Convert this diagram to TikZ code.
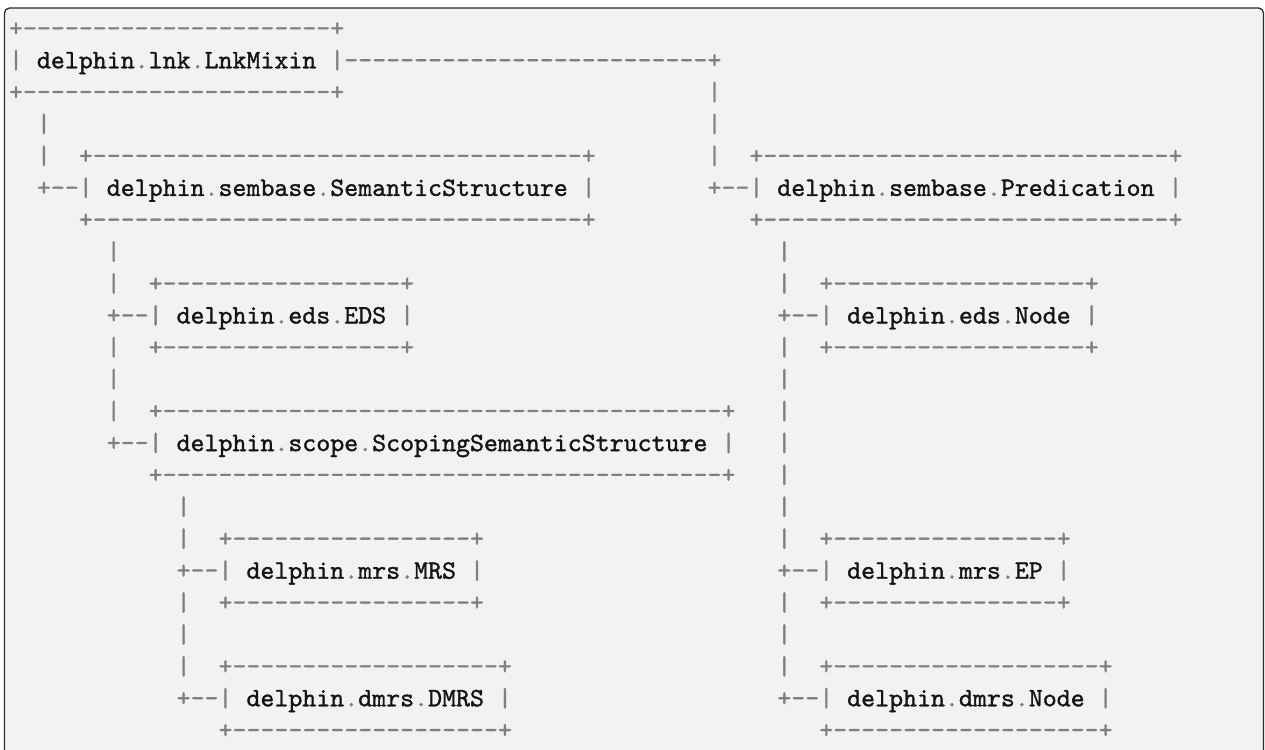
\documentclass[tikz,border=0pt]{standalone}
\usepackage{fontspec}
\newfontfamily\codefont[FakeBold=1.2]{lmmono10-regular.otf}
\definecolor{ink}{HTML}{141414}
\definecolor{pun}{HTML}{808080}
\definecolor{bgc}{HTML}{F2F2F2}
\definecolor{frm}{HTML}{2A2A2A}
\tikzset{
  txt/.style={inner sep=0pt, outer sep=0pt, anchor=base west,
    font=\codefont\fontsize{26.61}{32}\selectfont, text=ink},
  frame/.style={draw=frm, line width=1.3pt, fill=bgc, rounded corners=5pt}
}
\newcommand\g[1]{\textcolor{pun}{#1}}
\newcommand\dl{\g{.}}
\newcommand\Dd[1]{\g{\foreach\i in {1,...,#1}{-\kern0pt}}}
\newcommand\conn{\g{+}\Dd{2}\g{|}}
\newcommand\seg[4]{\node[txt,name=#1] at ({9+13.97*#3},{36.4+31.9*(#2-1)}) {#4};}
\begin{document}
\begin{tikzpicture}[x=1pt,y=-1pt]
\useasboundingbox (0,0) rectangle (1265,749);
\clip (0,0) rectangle (1265,749);
\path[frame] (4.5,8) rectangle (1263.5,800);
% row 1-3
\seg{r1}{1}{0}{\g{+}\Dd{22}\g{+}}
\seg{lnk}{2}{0}{\g{|} delphin\dl lnk\dl LnkMixin \g{|}\Dd{26}\g{+}}
\seg{r3a}{3}{0}{\g{+}\Dd{22}\g{+}}
\seg{r3b}{3}{50}{\g{|}}
\seg{r4a}{4}{2}{\g{|}}
\seg{r4b}{4}{50}{\g{|}}
% rows 5-7
\seg{r5a}{5}{2}{\g{|}}
\seg{r5b}{5}{5}{\g{+}\Dd{35}\g{+}}
\seg{r5c}{5}{50}{\g{|}}
\seg{r5d}{5}{53}{\g{+}\Dd{29}\g{+}}
\seg{sem}{6}{2}{\conn{} delphin\dl sembase\dl SemanticStructure \g{|}}
\seg{pred}{6}{50}{\conn{} delphin\dl sembase\dl Predication \g{|}}
\seg{r7a}{7}{5}{\g{+}\Dd{35}\g{+}}
\seg{r7b}{7}{53}{\g{+}\Dd{29}\g{+}}
% rows 8-11
\seg{r8a}{8}{7}{\g{|}}
\seg{r8b}{8}{55}{\g{|}}
\seg{r9a}{9}{7}{\g{|}}
\seg{r9b}{9}{10}{\g{+}\Dd{17}\g{+}}
\seg{r9c}{9}{55}{\g{|}}
\seg{r9d}{9}{58}{\g{+}\Dd{18}\g{+}}
\seg{eds}{10}{7}{\conn{} delphin\dl eds\dl EDS \g{|}}
\seg{edsnode}{10}{55}{\conn{} delphin\dl eds\dl Node \g{|}}
\seg{r11a}{11}{7}{\g{|}}
\seg{r11b}{11}{10}{\g{+}\Dd{17}\g{+}}
\seg{r11c}{11}{55}{\g{|}}
\seg{r11d}{11}{58}{\g{+}\Dd{18}\g{+}}
% rows 12-15
\seg{r12a}{12}{7}{\g{|}}
\seg{r12b}{12}{55}{\g{|}}
\seg{r13a}{13}{7}{\g{|}}
\seg{r13b}{13}{10}{\g{+}\Dd{40}\g{+}}
\seg{r13c}{13}{55}{\g{|}}
\seg{scope}{14}{7}{\conn{} delphin\dl scope\dl ScopingSemanticStructure \g{|}}
\seg{r14b}{14}{55}{\g{|}}
\seg{r15a}{15}{10}{\g{+}\Dd{40}\g{+}}
\seg{r15b}{15}{55}{\g{|}}
% rows 16-19
\seg{r16a}{16}{12}{\g{|}}
\seg{r16b}{16}{55}{\g{|}}
\seg{r17a}{17}{12}{\g{|}}
\seg{r17b}{17}{15}{\g{+}\Dd{17}\g{+}}
\seg{r17c}{17}{55}{\g{|}}
\seg{r17d}{17}{58}{\g{+}\Dd{16}\g{+}}
\seg{mrs}{18}{12}{\conn{} delphin\dl mrs\dl MRS \g{|}}
\seg{ep}{18}{55}{\conn{} delphin\dl mrs\dl EP \g{|}}
\seg{r19a}{19}{12}{\g{|}}
\seg{r19b}{19}{15}{\g{+}\Dd{17}\g{+}}
\seg{r19c}{19}{55}{\g{|}}
\seg{r19d}{19}{58}{\g{+}\Dd{16}\g{+}}
% rows 20-23
\seg{r20a}{20}{12}{\g{|}}
\seg{r20b}{20}{55}{\g{|}}
\seg{r21a}{21}{12}{\g{|}}
\seg{r21b}{21}{15}{\g{+}\Dd{19}\g{+}}
\seg{r21c}{21}{55}{\g{|}}
\seg{r21d}{21}{58}{\g{+}\Dd{19}\g{+}}
\seg{dmrs}{22}{12}{\conn{} delphin\dl dmrs\dl DMRS \g{|}}
\seg{dmrsnode}{22}{55}{\conn{} delphin\dl dmrs\dl Node \g{|}}
\seg{r23a}{23}{15}{\g{+}\Dd{19}\g{+}}
\seg{r23b}{23}{58}{\g{+}\Dd{19}\g{+}}
\end{tikzpicture}
\end{document}
